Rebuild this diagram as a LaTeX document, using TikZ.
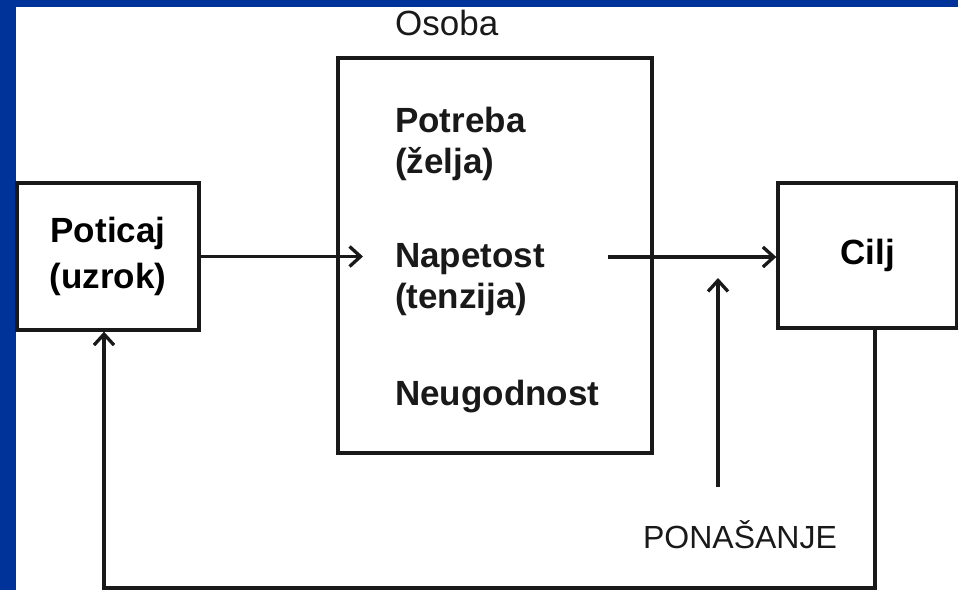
\documentclass[tikz,border=0pt]{standalone}
\usepackage{fontspec}
\setmainfont{Liberation Sans}
\usetikzlibrary{arrows.meta}
\definecolor{slideblue}{RGB}{0,51,153}
\begin{document}
\begin{tikzpicture}[x=1pt,y=-1pt,
  box/.style={draw=black!90,line width=3.3pt,inner sep=0pt,align=center,
    font=\bfseries\fontsize{35}{46}\selectfont},
  txt/.style={anchor=base west,inner sep=0pt,text=black!90,
    font=\bfseries\fontsize{35}{42}\selectfont},
  arr/.style={draw=black!90,line width=3.3pt,
    -{Straight Barb[length=11pt,width=20pt]}}]

% slide size:
\useasboundingbox (0,0) rectangle (958,590);
% slide frame
\fill[slideblue] (0,0) rectangle (958,7);
\fill[slideblue] (0,0) rectangle (16,590);

% boxes
\node[box,minimum width=182pt,minimum height=147pt] (poticaj) at (108,256.5) {Poticaj\\(uzrok)};
\node[box,minimum width=314pt,minimum height=395pt] (osoba) at (495,255.5) {};
\node[box,minimum width=179pt,minimum height=145pt] (cilj) at (867.5,255.5) {Cilj};

% texts
\node[txt,font=\fontsize{35}{42}\selectfont] (osobalbl) at (395,35) {Osoba};
\node[txt] (potreba) at (395,132) {Potreba};
\node[txt] (zelja) at (395,173) {(želja)};
\node[txt] (napetost) at (395,267) {Napetost};
\node[txt] (tenzija) at (395,308) {(tenzija)};
\node[txt] (neugodnost) at (395,405) {Neugodnost};
\node[txt,anchor=base,font=\fontsize{32}{38}\selectfont] (ponasanje) at (740,548) {PONAŠANJE};

% arrows
\coordinate (nout) at (608,257);
\coordinate (bstart) at (718,487);
\coordinate (bend) at (718,278);
\coordinate (fb) at (875,588);
\draw[arr] (poticaj.east) -- ([xshift=-32pt]napetost.west |- poticaj.east);
\draw[arr] (nout) -- (nout -| cilj.west);
\draw[arr] (bstart) -- (bend);
%\draw[arr] (ponasanje.north) -- (bend);
\draw[arr] (cilj.south -| fb) |- (fb) -| ([xshift=-4pt]poticaj.south);

\end{tikzpicture}
\end{document}
